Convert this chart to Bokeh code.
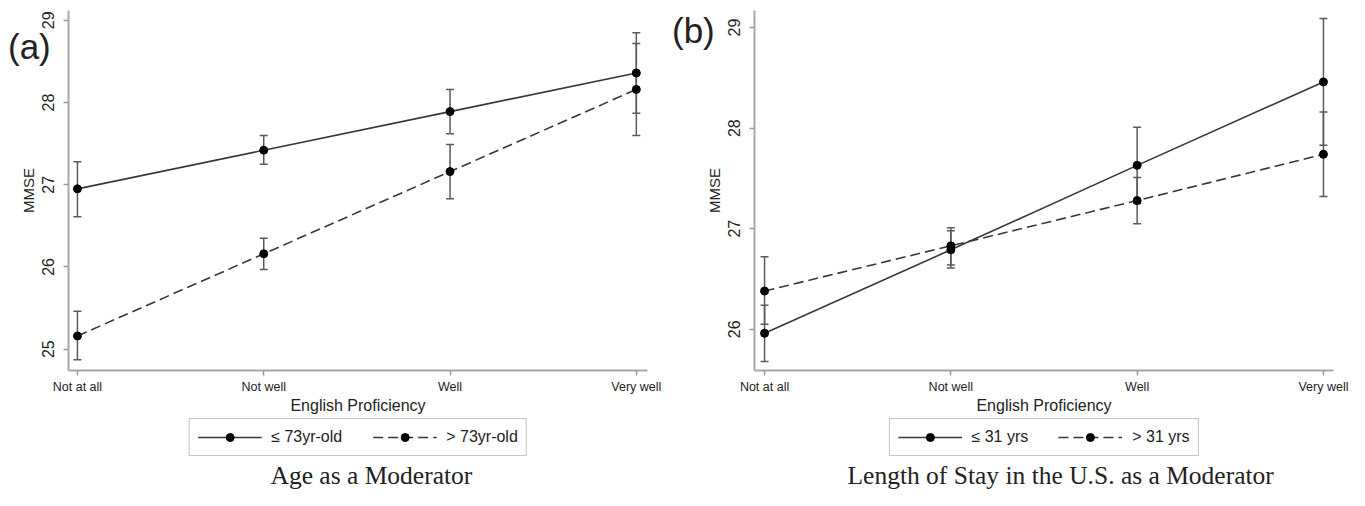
from bokeh.plotting import figure
from bokeh.models import (Range1d, FixedTicker, Whisker, TeeHead, ColumnDataSource,
                          Legend, LegendItem, Label, Div)
from bokeh.layouts import row, column
from bokeh.embed import file_html
from bokeh.resources import INLINE

categories = ["Not at all", "Not well", "Well", "Very well"]
x_pos = [0, 1, 2, 3]

# Panel (a): Age as a moderator
a_low_mean = [26.95, 27.42, 27.89, 28.36]
a_low_lower = [26.61, 27.25, 27.62, 27.87]
a_low_upper = [27.28, 27.60, 28.16, 28.85]
a_high_mean = [25.16, 26.16, 27.16, 28.16]
a_high_lower = [24.87, 25.97, 26.83, 27.60]
a_high_upper = [25.46, 26.35, 27.49, 28.72]

# Panel (b): Length of stay as a moderator
b_low_mean = [25.96, 26.79, 27.63, 28.46]
b_low_lower = [25.68, 26.61, 27.25, 27.83]
b_low_upper = [26.24, 26.98, 28.01, 29.09]
b_high_mean = [26.38, 26.83, 27.28, 27.74]
b_high_lower = [26.05, 26.64, 27.05, 27.32]
b_high_upper = [26.72, 27.01, 27.51, 28.16]

a_labels = ["\u2264 73yr-old", "> 73yr-old"]
b_labels = ["\u2264 31 yrs", "> 31 yrs"]
a_yticks = [25, 26, 27, 28, 29]
b_yticks = [26, 27, 28, 29]

SANS = "Liberation Sans"
SERIF = "Liberation Serif"
LINE_C = "#383838"
ERR_C = "#5a5a5a"
AXIS_C = "#a8a8a8"
TEXT_C = "#222222"
DASHES = ["solid", "10 5"]

MAIN_H = 416
LEG_H = 490 - MAIN_H


def make_panel(width, xr, yr, yticks, series, labels, letter, letter_box,
               title_text, title_offset, border_left, border_right):
    p = figure(width=width, height=MAIN_H, output_backend="svg", toolbar_location=None,
               x_range=Range1d(*xr), y_range=Range1d(*yr),
               min_border_left=border_left, min_border_right=border_right,
               min_border_top=10, min_border_bottom=40)
    p.outline_line_color = None
    p.xgrid.visible = False
    p.ygrid.visible = False

    for (mean, lo, hi), dash in zip(series, DASHES):
        src = ColumnDataSource(dict(x=x_pos, m=mean, lo=lo, hi=hi))
        w = Whisker(base="x", upper="hi", lower="lo", source=src,
                    line_color=ERR_C, line_width=1.5,
                    upper_head=TeeHead(size=8, line_color=ERR_C, line_width=1.5),
                    lower_head=TeeHead(size=8, line_color=ERR_C, line_width=1.5))
        p.add_layout(w)
        p.line("x", "m", source=src, line_color=LINE_C, line_width=1.6, line_dash=dash)
        p.scatter("x", "m", source=src, size=8, color="black")

    for ax in (p.xaxis[0], p.yaxis[0]):
        ax.axis_line_color = AXIS_C
        ax.axis_line_width = 2
        ax.major_tick_line_color = "#999999"
        ax.major_tick_line_width = 1.5
        ax.major_tick_out = 5
        ax.major_tick_in = 0
        ax.minor_tick_line_color = None
        ax.major_label_text_font = SANS
        ax.axis_label_text_font = SANS
        ax.axis_label_text_font_style = "normal"
        ax.major_label_text_color = TEXT_C
        ax.axis_label_text_color = TEXT_C

    p.xaxis.ticker = FixedTicker(ticks=x_pos)
    p.xaxis.major_label_overrides = {i: c for i, c in zip(x_pos, categories)}
    p.xaxis.major_label_text_font_size = "12.5px"
    p.xaxis.major_label_standoff = 4
    p.xaxis.axis_label = "English Proficiency"
    p.xaxis.axis_label_text_font_size = "16px"
    p.xaxis.axis_label_standoff = 0

    p.yaxis.ticker = FixedTicker(ticks=yticks)
    p.yaxis.major_label_orientation = "vertical"
    p.yaxis.major_label_text_font_size = "16px"
    p.yaxis.major_label_standoff = 9
    p.yaxis.axis_label = "MMSE"
    p.yaxis.axis_label_text_font_size = "15px"
    p.yaxis.axis_label_standoff = 3

    # panel letter, overlaid at the top-left corner of the panel
    left, top = letter_box
    d = Div(text=letter, width=50, height=40, margin=(top, -(50 + left), 0, left),
            styles={"position": "relative", "z-index": "10",
                    "font-family": SANS, "font-size": "35px", "line-height": "40px",
                    "color": TEXT_C, "white-space": "nowrap"})

    # legend + caption strip, frame aligned with the plot frame
    fw = width - border_left - border_right
    q = figure(width=width, height=LEG_H, output_backend="svg", toolbar_location=None,
               x_range=Range1d(0, fw), y_range=Range1d(0, LEG_H),
               x_axis_location=None, y_axis_location=None,
               min_border_left=border_left, min_border_right=border_right,
               min_border_top=0, min_border_bottom=0)
    q.grid.visible = False
    q.outline_line_color = None
    items = []
    for lab, dash in zip(labels, DASHES):
        lr = q.line(x=[-20, -10], y=[-20, -20], line_color=LINE_C, line_width=1.6,
                    line_dash=dash)
        sr = q.scatter(x=[-15], y=[-20], size=7, color="black")
        items.append(LegendItem(label=lab, renderers=[lr, sr]))
    leg = Legend(items=items, orientation="horizontal", location="top_center",
                 border_line_color="#8a8a8a", border_line_width=1.5,
                 background_fill_alpha=0,
                 label_text_font=SANS, label_text_font_size="16px",
                 label_text_color=TEXT_C,
                 glyph_width=64, glyph_height=20, label_height=20,
                 label_standoff=10, spacing=30, padding=8, margin=2)
    q.add_layout(leg)
    cap = Label(x=title_offset, y=15, text=title_text, text_font=SERIF,
                text_font_size="25.5px", text_baseline="alphabetic", text_align="left",
                text_color=TEXT_C)
    q.add_layout(cap)
    return column(row(d, p, spacing=0), q, spacing=0)


pa = make_panel(668, (-0.048, 3.06), (24.74, 29.12), a_yticks,
                [(a_low_mean, a_low_lower, a_low_upper),
                 (a_high_mean, a_high_lower, a_high_upper)],
                a_labels, "(a)", (8, 27), "Age as a Moderator", 202, 68, 21)
pb = make_panel(681, (-0.054, 3.054), (25.59, 29.17), b_yticks,
                [(b_low_mean, b_low_lower, b_low_upper),
                 (b_high_mean, b_high_lower, b_high_upper)],
                b_labels, "(b)", (4, 11),
                "Length of Stay in the U.S. as a Moderator", 93, 86, 16)

layout = row(pa, pb, spacing=0)
open("out.html", "w").write(file_html(layout, INLINE))
